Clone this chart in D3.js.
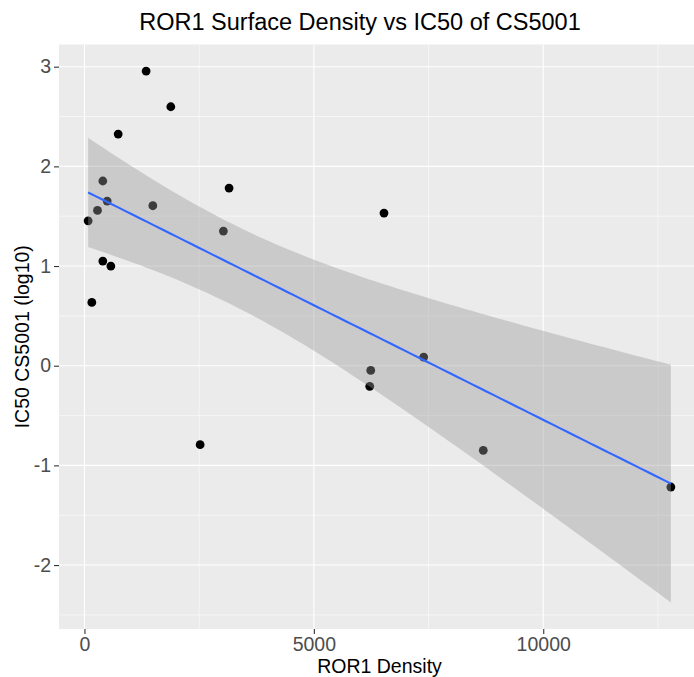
<!DOCTYPE html>
<html>
<head>
<meta charset="utf-8">
<script src="https://cdn.jsdelivr.net/npm/d3@7"></script>
<style>
  body { margin: 0; background: #fff; }
  text { font-family: "Liberation Sans", Arial, sans-serif; }
</style>
</head>
<body>
<div id="chart"></div>
<script>
// Data
const rorDensity = [80, 160, 284, 400, 495, 400, 575, 735, 1490, 1344,
  1882, 3152, 3028, 2521, 6529, 7394, 6240, 6218, 8693, 12782];
const ic50Log = [1.454, 0.635, 1.558, 1.853, 1.652, 1.05, 1.0, 2.324, 1.605, 2.956,
  2.598, 1.782, 1.351, -0.792, 1.531, 0.087, -0.047, -0.207, -0.849, -1.217];
const xTicks = [0, 5000, 10000];
const xMinor = [2500, 7500, 12500];
const yTicks = [-2, -1, 0, 1, 2, 3];
const yMinor = [-2.5, -1.5, -0.5, 0.5, 1.5, 2.5];

const points = rorDensity.map((x, i) => ({ x: x, y: ic50Log[i] }));

// Linear fit with 95% confidence band (like geom_smooth(method = "lm"))
const n = points.length;
const xm = d3.mean(points, (d) => d.x);
const ym = d3.mean(points, (d) => d.y);
const sxx = d3.sum(points, (d) => (d.x - xm) ** 2);
const sxy = d3.sum(points, (d) => (d.x - xm) * (d.y - ym));
const slope = sxy / sxx;
const intercept = ym - slope * xm;
const rss = d3.sum(points, (d) => (d.y - intercept - slope * d.x) ** 2);
const sigma = Math.sqrt(rss / (n - 2));
const tq = 2.100922; // qt(0.975, 18)
const [xlo, xhi] = d3.extent(rorDensity);
const fit = d3.range(80).map((i) => {
  const x = xlo + (xhi - xlo) * i / 79;
  const yhat = intercept + slope * x;
  const se = sigma * Math.sqrt(1 / n + (x - xm) ** 2 / sxx);
  return { x: x, y: yhat, lo: yhat - tq * se, hi: yhat + tq * se };
});

// Layout
const W = 694, H = 677;
const panel = { left: 59, top: 44.5, right: 700, bottom: 629 };

const svg = d3.select("#chart").append("svg")
  .attr("width", W).attr("height", H);

// Scales with ggplot's 5% expansion
const xr = xhi - xlo;
const x = d3.scaleLinear()
  .domain([xlo - 0.05 * xr, xhi + 0.05 * xr])
  .range([panel.left, panel.right]);
const yMin = Math.min(d3.min(ic50Log), d3.min(fit, (d) => d.lo));
const yMax = Math.max(d3.max(ic50Log), d3.max(fit, (d) => d.hi));
const yr = yMax - yMin;
const y = d3.scaleLinear()
  .domain([yMin - 0.05 * yr, yMax + 0.05 * yr])
  .range([panel.bottom, panel.top]);

// Panel background
svg.append("rect")
  .attr("x", panel.left).attr("y", panel.top)
  .attr("width", panel.right - panel.left)
  .attr("height", panel.bottom - panel.top)
  .attr("fill", "#ebebeb");

const grid = svg.append("g");
// minor grid
grid.selectAll(".xminor").data(xMinor).enter().append("line")
  .attr("x1", (d) => x(d)).attr("x2", (d) => x(d))
  .attr("y1", panel.top).attr("y2", panel.bottom)
  .attr("stroke", "#fff").attr("stroke-width", 0.55);
grid.selectAll(".yminor").data(yMinor).enter().append("line")
  .attr("y1", (d) => y(d)).attr("y2", (d) => y(d))
  .attr("x1", panel.left).attr("x2", panel.right)
  .attr("stroke", "#fff").attr("stroke-width", 0.55);
// major grid
grid.selectAll(".xmajor").data(xTicks).enter().append("line")
  .attr("x1", (d) => x(d)).attr("x2", (d) => x(d))
  .attr("y1", panel.top).attr("y2", panel.bottom)
  .attr("stroke", "#fff").attr("stroke-width", 1.1);
grid.selectAll(".ymajor").data(yTicks).enter().append("line")
  .attr("y1", (d) => y(d)).attr("y2", (d) => y(d))
  .attr("x1", panel.left).attr("x2", panel.right)
  .attr("stroke", "#fff").attr("stroke-width", 1.1);

// Points
svg.append("g").selectAll("circle").data(points).enter().append("circle")
  .attr("cx", (d) => x(d.x)).attr("cy", (d) => y(d.y))
  .attr("r", 4.4).attr("fill", "#000");

// Confidence ribbon
svg.append("path").datum(fit)
  .attr("d", d3.area().x((d) => x(d.x)).y0((d) => y(d.lo)).y1((d) => y(d.hi)))
  .attr("fill", "#999999").attr("fill-opacity", 0.4);

// Fit line
svg.append("path").datum(fit)
  .attr("d", d3.line().x((d) => x(d.x)).y((d) => y(d.y)))
  .attr("fill", "none").attr("stroke", "#3366ff").attr("stroke-width", 2.1);

// Axes
const xAxis = svg.append("g")
  .attr("transform", `translate(0,${panel.bottom})`)
  .call(d3.axisBottom(x).tickValues(xTicks).tickSize(5).tickPadding(3)
    .tickFormat(d3.format("d")));
const yAxis = svg.append("g")
  .attr("transform", `translate(${panel.left},0)`)
  .call(d3.axisLeft(y).tickValues(yTicks).tickSize(5).tickPadding(3)
    .tickFormat((d) => (d < 0 ? "-" + Math.abs(d) : String(d))));
[xAxis, yAxis].forEach((g) => {
  g.select(".domain").remove();
  g.selectAll(".tick line").attr("stroke", "#333").attr("stroke-width", 1.1);
  g.selectAll(".tick text")
    .attr("fill", "#4d4d4d")
    .style("font-size", "19.5px")
    .style("font-family", "'Liberation Sans', Arial, sans-serif");
});

// Titles
svg.append("text")
  .attr("x", 360).attr("y", 30)
  .attr("text-anchor", "middle")
  .style("font-size", "23.5px")
  .text("ROR1 Surface Density vs IC50 of CS5001");

svg.append("text")
  .attr("x", (panel.left + panel.right) / 2).attr("y", 673)
  .attr("text-anchor", "middle")
  .style("font-size", "19.5px")
  .text("ROR1 Density");

svg.append("text")
  .attr("transform", `translate(29,${(panel.top + panel.bottom) / 2}) rotate(-90)`)
  .attr("text-anchor", "middle")
  .style("font-size", "19.5px")
  .text("IC50 CS5001 (log10)");
</script>
</body>
</html>
